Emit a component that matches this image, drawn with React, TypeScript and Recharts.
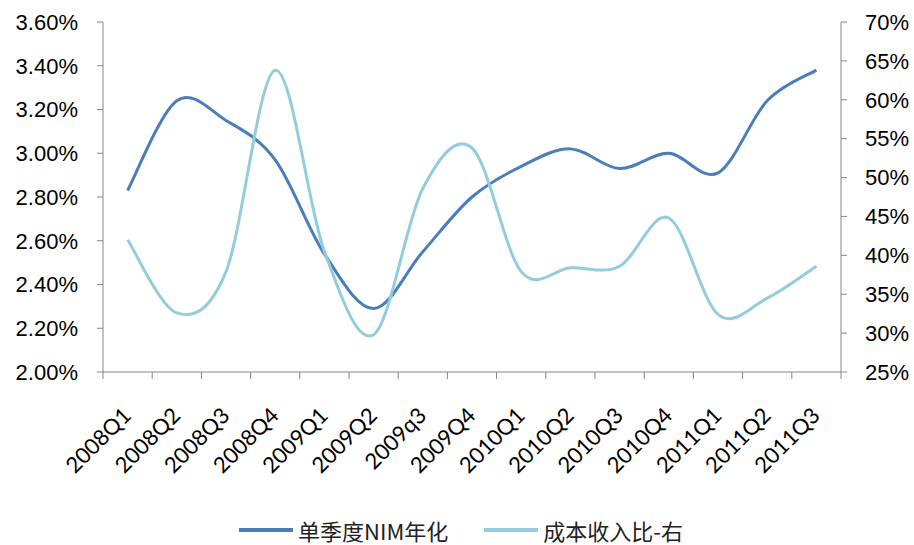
import React from "react";
import {
	Legend,
	Line,
	LineChart,
	XAxis,
	YAxis,
} from "recharts";

const CATEGORIES = [
	"2008Q1", "2008Q2", "2008Q3", "2008Q4",
	"2009Q1", "2009Q2", "2009q3", "2009Q4",
	"2010Q1", "2010Q2", "2010Q3", "2010Q4",
	"2011Q1", "2011Q2", "2011Q3",
];

// 单季度NIM年化, %
const NIM = [2.83, 3.24, 3.15, 2.97, 2.54, 2.29, 2.55, 2.8, 2.94, 3.02, 2.93, 3.0, 2.91, 3.24, 3.38];

// 成本收入比-右, %
const COST_INCOME = [42.0, 32.6, 37.9, 63.8, 40.5, 29.8, 48.6, 53.8, 37.9, 38.4, 38.6, 44.8, 32.4, 34.5, 38.6];

const LEFT_TICKS = [2.0, 2.2, 2.4, 2.6, 2.8, 3.0, 3.2, 3.4, 3.6];
const RIGHT_TICKS = [25, 30, 35, 40, 45, 50, 55, 60, 65, 70];

const NIM_NAME = "单季度NIM年化";
const COST_NAME = "成本收入比-右";

const NIM_COLOR = "#4a7ebb";
const COST_COLOR = "#93cddd";
const AXIS_COLOR = "#868686";

const data = CATEGORIES.map((label, idx) => ({
	idx,
	label,
	nim: NIM[idx],
	cost: COST_INCOME[idx],
}));

// category centres plus the band edges between them
const X_TICKS = [
	-0.5,
	...CATEGORIES.flatMap((_, i) => [i, i + 0.5]),
];

// smoothed line like the spreadsheet one (Catmull-Rom through every point)
function smoothCurve(context: any) {
	let pts: number[][] = [];
	return {
		areaStart() {},
		areaEnd() {},
		lineStart() {
			pts = [];
		},
		point(x: number, y: number) {
			pts.push([+x, +y]);
		},
		lineEnd() {
			if (!pts.length) return;
			context.moveTo(pts[0][0], pts[0][1]);
			for (let i = 0; i < pts.length - 1; i++) {
				const p0 = pts[i - 1] || pts[i];
				const p1 = pts[i];
				const p2 = pts[i + 1];
				const p3 = pts[i + 2] || p2;
				context.bezierCurveTo(
					p1[0] + (p2[0] - p0[0]) / 6,
					p1[1] + (p2[1] - p0[1]) / 6,
					p2[0] - (p3[0] - p1[0]) / 6,
					p2[1] - (p3[1] - p1[1]) / 6,
					p2[0],
					p2[1],
				);
			}
		},
	};
}

function CategoryTick({ x, y, payload }: any) {
	const v = payload.value;
	if (!Number.isInteger(v)) {
		return <line x1={x} x2={x} y1={y} y2={y + 7} stroke={AXIS_COLOR} />;
	}
	const ax = x + 5;
	const ay = y + 45;
	return (
		<text
			x={ax}
			y={ay}
			transform={`rotate(-45, ${ax}, ${ay})`}
			textAnchor="end"
			fontSize={22}
			fontFamily="Lato, sans-serif"
			fill="#000"
		>
			{CATEGORIES[v]}
		</text>
	);
}

function LegendContent() {
	const items = [
		{ name: NIM_NAME, color: NIM_COLOR },
		{ name: COST_NAME, color: COST_COLOR },
	];
	return (
		<div
			style={{
				display: "flex",
				justifyContent: "center",
				alignItems: "center",
				height: 30,
				gap: 36,
				paddingLeft: 8,
			}}
		>
			{items.map((it) => (
				<div key={it.name} style={{ display: "flex", alignItems: "center" }}>
					<span
						style={{
							display: "inline-block",
							width: 54,
							height: 4,
							background: it.color,
							marginRight: 5,
						}}
					/>
					<span
						style={{
							fontSize: 22,
							fontFamily: "'Noto Sans CJK SC', sans-serif",
							color: "#222",
							lineHeight: "30px",
							whiteSpace: "nowrap",
						}}
					>
						{it.name}
					</span>
				</div>
			))}
		</div>
	);
}

const tickStyle = {
	fontSize: 22,
	fontFamily: "'Liberation Sans', Arial, sans-serif",
	fill: "#000",
};

export default function App() {
	return (
		<div style={{ width: 914, height: 545 }}>
			<style>{"body{margin:0}"}</style>
			<LineChart
				width={914}
				height={545}
				data={data}
				margin={{ top: 22, right: 0, bottom: 0, left: 0 }}
			>
				<XAxis
					dataKey="idx"
					type="number"
					domain={[-0.5, CATEGORIES.length - 0.5]}
					ticks={X_TICKS}
					interval={0}
					tick={<CategoryTick />}
					tickLine={false}
					tickSize={0}
					tickMargin={0}
					height={143}
					stroke={AXIS_COLOR}
					yAxisId="left"
				/>
				<YAxis
					yAxisId="left"
					orientation="left"
					domain={[2, 3.6]}
					ticks={LEFT_TICKS}
					interval={0}
					width={103}
					tick={tickStyle}
					tickFormatter={(v: number) => `${v.toFixed(2)}%`}
					tickSize={6}
					tickMargin={19}
					stroke={AXIS_COLOR}
				/>
				<YAxis
					yAxisId="right"
					orientation="right"
					domain={[25, 70]}
					ticks={RIGHT_TICKS}
					interval={0}
					width={73}
					tick={tickStyle}
					tickFormatter={(v: number) => `${v}%`}
					tickSize={6}
					tickMargin={18}
					stroke={AXIS_COLOR}
				/>
				<Legend verticalAlign="bottom" content={<LegendContent />} />
				<Line
					yAxisId="left"
					dataKey="nim"
					name={NIM_NAME}
					type={smoothCurve as any}
					stroke={NIM_COLOR}
					strokeWidth={3}
					dot={false}
					activeDot={false}
					isAnimationActive={false}
				/>
				<Line
					yAxisId="right"
					dataKey="cost"
					name={COST_NAME}
					type={smoothCurve as any}
					stroke={COST_COLOR}
					strokeWidth={3}
					dot={false}
					activeDot={false}
					isAnimationActive={false}
				/>
			</LineChart>
		</div>
	);
}
